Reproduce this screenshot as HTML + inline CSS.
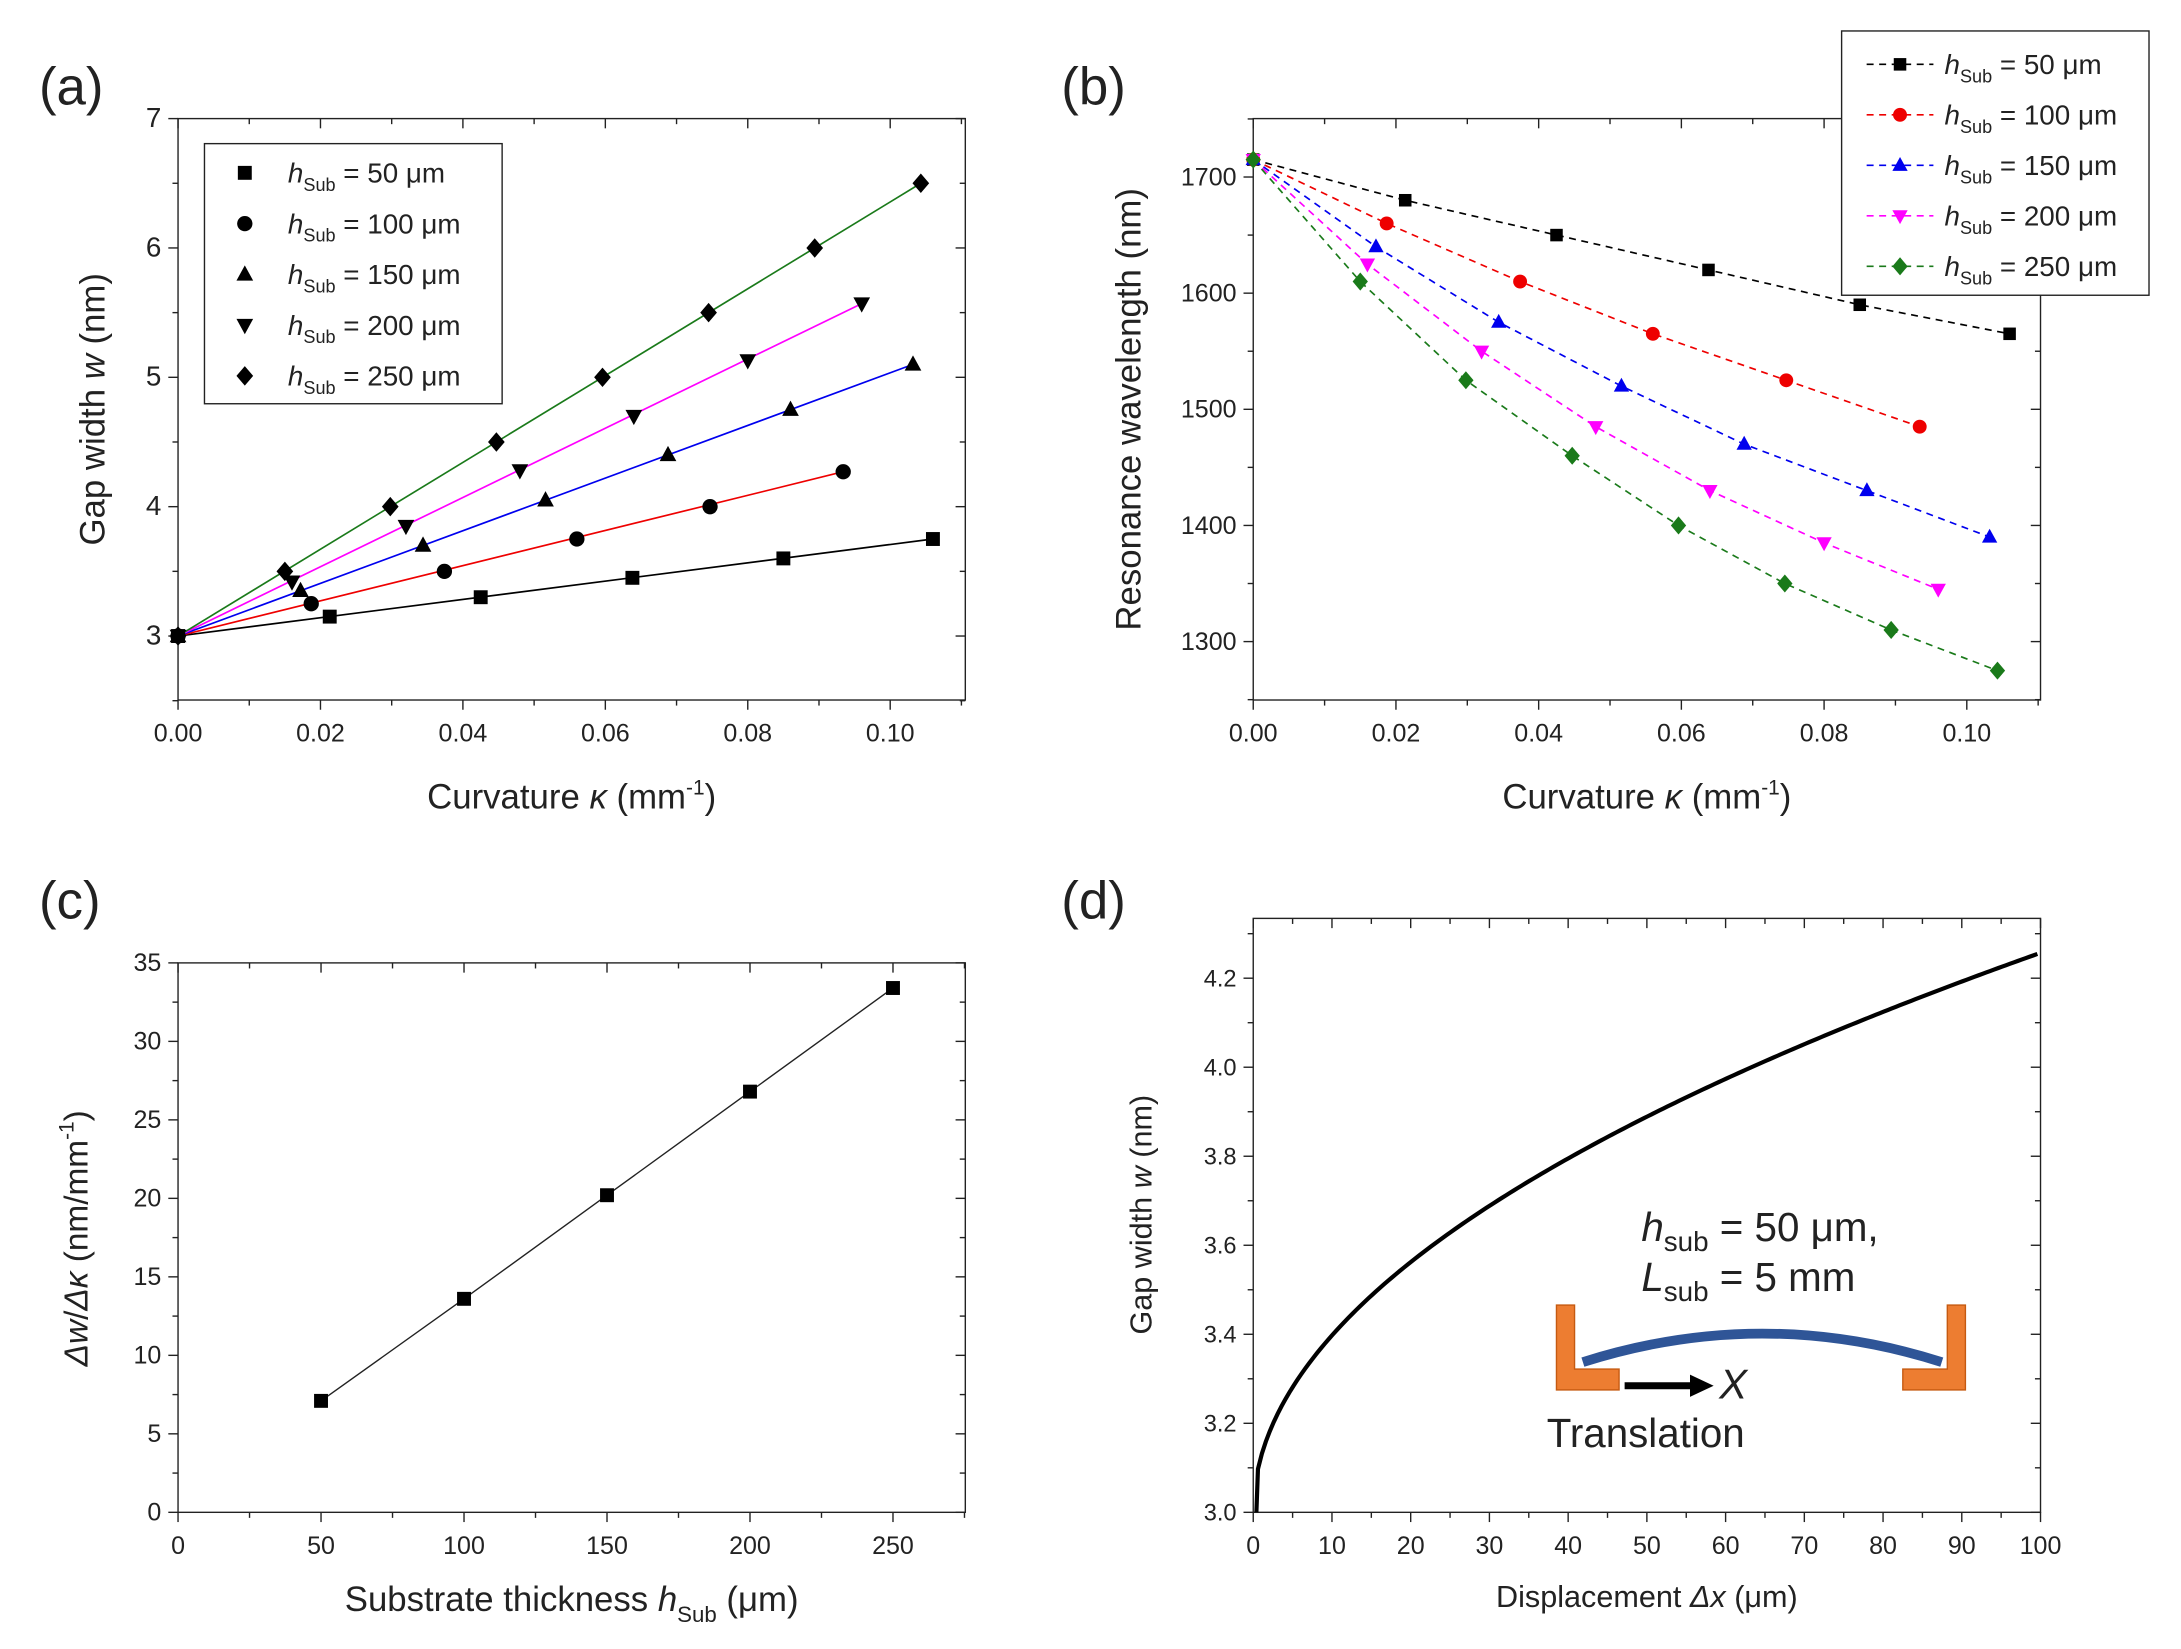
<!DOCTYPE html>
<html><head><meta charset="utf-8"><style>
html,body{margin:0;padding:0;background:#fff}
svg{display:block}
text{font-family:"Liberation Sans",sans-serif;fill:#222}
</style></head><body>
<svg id="s" width="2181" height="1649" viewBox="0 0 1568 1185" xmlns="http://www.w3.org/2000/svg"></svg>
<script>
const S=document.getElementById('s');const NS='http://www.w3.org/2000/svg';
function el(t,a,txt){const e=document.createElementNS(NS,t);for(const k in a)e.setAttribute(k,a[k]);if(txt!==undefined)e.innerHTML=txt;S.appendChild(e);return e;}
function marker(type,x,y,c,r){r=r||5.5;
 if(type==0)el('rect',{x:x-r+0.5,y:y-r+0.5,width:2*r-1,height:2*r-1,fill:c});
 else if(type==1)el('circle',{cx:x,cy:y,r:r,fill:c});
 else if(type==2)el('polygon',{points:`${x},${y-r-1} ${x-r-0.5},${y+r-1} ${x+r+0.5},${y+r-1}`,fill:c});
 else if(type==3)el('polygon',{points:`${x},${y+r+1} ${x-r-0.5},${y-r+1} ${x+r+0.5},${y-r+1}`,fill:c});
 else el('polygon',{points:`${x},${y-r-1.5} ${x+r+0.5},${y} ${x},${y+r+1.5} ${x-r-0.5},${y}`,fill:c});}
function frame(x0,y0,x1,y1){el('rect',{x:x0,y:y0,width:x1-x0,height:y1-y0,fill:'none',stroke:'#222','stroke-width':1});}
function xt(px,y0,y1,label,minor){el('line',{x1:px,y1:y1,x2:px,y2:y1+(minor?4:7),stroke:'#222'});el('line',{x1:px,y1:y0,x2:px,y2:y0+(minor?4:7),stroke:'#222'});if(label!==null&&label!==undefined)el('text',{x:px,y:y1+30,'font-size':18,'text-anchor':'middle'},label);}
function yt(py,x0,x1,label,minor,fs){el('line',{x1:x0,y1:py,x2:x0-(minor?4:7),y2:py,stroke:'#222'});el('line',{x1:x1,y1:py,x2:x1-(minor?4:7),y2:py,stroke:'#222'});if(label!==null&&label!==undefined)el('text',{x:x0-12,y:py+6,'font-size':fs||18,'text-anchor':'end'},label);}
const cols=['#000','#e00','#00e','#f0f','#1a7a1a'];
[['(a)',28,75],['(b)',763,75],['(c)',28,660],['(d)',763,660]].forEach(p=>el('text',{x:p[1],y:p[2],'font-size':38},p[0]));
// ---- (a)
const ax=k=>128+k*5120, ay=w=>457-(w-3)*93;
frame(128,85,694,503);
for(let i=0;i<=11;i++){const k=i*0.01;xt(ax(k),85,503,i%2==0?k.toFixed(2):null,i%2==1);}
for(let v=2.5;v<=7.01;v+=0.5){yt(ay(v),128,694,Number.isInteger(v)?String(v):null,!Number.isInteger(v),20);}
const A=[[[0.0213,.0425,.0638,.085,.106],[3.15,3.3,3.45,3.6,3.75]],
[[.0187,.0374,.056,.0747,.0934],[3.25,3.5,3.75,4.0,4.27]],
[[.0172,.0344,.0516,.0688,.086,.1032],[3.35,3.7,4.05,4.4,4.75,5.1]],
[[.016,.032,.048,.064,.08,.096],[3.42,3.85,4.28,4.7,5.13,5.57]],
[[.015,.0298,.0447,.0596,.0745,.0894,.1043],[3.5,4,4.5,5,5.5,6,6.5]]];
A.forEach((s,i)=>{const n=s[0].length-1;el('line',{x1:ax(0),y1:ay(3),x2:ax(s[0][n]),y2:ay(s[1][n]),stroke:cols[i],'stroke-width':1.2});});
A.forEach((s,i)=>{marker(i,ax(0),ay(3),'#000');s[0].forEach((k,j)=>marker(i,ax(k),ay(s[1][j]),'#000'));});
el('rect',{x:147,y:103,width:214,height:187,fill:'#fff',stroke:'#222'});
['50','100','150','200','250'].forEach((h,i)=>{const y=124+i*36.5;marker(i,176,y,'#000');el('text',{x:207,y:y+7,'font-size':20},`<tspan font-style="italic">h</tspan><tspan font-size="13" dy="6">Sub</tspan><tspan dy="-6"> = ${h} μm</tspan>`);});
el('text',{x:75,y:294,'font-size':25,'text-anchor':'middle',transform:'rotate(-90 75 294)'},'Gap width <tspan font-style="italic">w</tspan> (nm)');
el('text',{x:411,y:581,'font-size':25,'text-anchor':'middle'},'Curvature <tspan font-style="italic">κ</tspan> (mm<tspan font-size="15" dy="-10">-1</tspan><tspan dy="10">)</tspan>');
// ---- (b)
const bx=k=>901+k*5130, by=v=>127+(1700-v)*0.835;
frame(901,85,1467,503);
for(let i=0;i<=11;i++){const k=i*0.01;xt(bx(k),85,503,i%2==0?k.toFixed(2):null,i%2==1);}
for(let v=1250;v<=1750;v+=50){yt(by(v),901,1467,v%100==0?String(v):null,v%100!=0);}
const B=[[[0,.0213,.0425,.0638,.085,.106],[1715,1680,1650,1620,1590,1565]],
[[0,.0187,.0374,.056,.0747,.0934],[1715,1660,1610,1565,1525,1485]],
[[0,.0172,.0344,.0516,.0688,.086,.1032],[1715,1640,1575,1520,1470,1430,1390]],
[[0,.016,.032,.048,.064,.08,.096],[1715,1625,1550,1485,1430,1385,1345]],
[[0,.015,.0298,.0447,.0596,.0745,.0894,.1043],[1715,1610,1525,1460,1400,1350,1310,1275]]];
B.forEach((s,i)=>{el('polyline',{points:s[0].map((k,j)=>bx(k)+','+by(s[1][j])).join(' '),fill:'none',stroke:cols[i],'stroke-width':1.2,'stroke-dasharray':'5,4'});});
B.forEach((s,i)=>s[0].forEach((k,j)=>marker(i,bx(k),by(s[1][j]),cols[i],5)));
el('rect',{x:1324,y:22,width:221,height:190,fill:'#fff',stroke:'#222'});
['50','100','150','200','250'].forEach((h,i)=>{const y=46+i*36.3;el('line',{x1:1342,y1:y,x2:1390,y2:y,stroke:cols[i],'stroke-dasharray':'5,4','stroke-width':1.2});marker(i,1366,y,cols[i],5);el('text',{x:1398,y:y+7,'font-size':20},`<tspan font-style="italic">h</tspan><tspan font-size="13" dy="6">Sub</tspan><tspan dy="-6"> = ${h} μm</tspan>`);});
el('text',{x:820,y:294,'font-size':25,'text-anchor':'middle',transform:'rotate(-90 820 294)'},'Resonance wavelength (nm)');
el('text',{x:1184,y:581,'font-size':25,'text-anchor':'middle'},'Curvature <tspan font-style="italic">κ</tspan> (mm<tspan font-size="15" dy="-10">-1</tspan><tspan dy="10">)</tspan>');
// ---- (c)
const cx=h=>128+h*2.056, cy=v=>1087-v*11.286;
frame(128,692,694,1087);
for(let h=0;h<=275;h+=25){xt(cx(h),692,1087,h%50==0?String(h):null,h%50!=0);}
for(let v=0;v<=35;v+=2.5){yt(cy(v),128,694,Number.isInteger(v/5)?String(v):null,!Number.isInteger(v/5));}
const C=[[50,7.1],[100,13.6],[150,20.2],[200,26.8],[250,33.4]];
el('polyline',{points:C.map(p=>cx(p[0])+','+cy(p[1])).join(' '),fill:'none',stroke:'#222','stroke-width':1});
C.forEach(p=>marker(0,cx(p[0]),cy(p[1]),'#000'));
el('text',{x:63,y:890,'font-size':24,'text-anchor':'middle',transform:'rotate(-90 63 890)'},'<tspan font-style="italic">Δw</tspan>/<tspan font-style="italic">Δκ</tspan> (nm/mm<tspan font-size="15" dy="-10">-1</tspan><tspan dy="10">)</tspan>');
el('text',{x:411,y:1158,'font-size':25,'text-anchor':'middle'},'Substrate thickness <tspan font-style="italic">h</tspan><tspan font-size="16" dy="8">Sub</tspan><tspan dy="-8"> (μm)</tspan>');
// ---- (d)
const dx=x=>901+x*5.66, dy=w=>1087-(w-3)*320;
frame(901,660,1467,1087);
for(let x=0;x<=100;x+=5){xt(dx(x),660,1087,x%10==0?String(x):null,x%10!=0);}
for(let w=3.0;w<=4.31;w+=0.1){const m=Math.round(w*10)%2==0;yt(dy(w),901,1467,m?w.toFixed(1):null,!m,17);}
let pts=[dx(0.4)+','+dy(3.0)];for(let x=0.6;x<=100;x+=0.5){pts.push(dx(x)+','+dy(3+0.1257*Math.sqrt(x)));}
el('polyline',{points:pts.join(' '),fill:'none',stroke:'#000','stroke-width':3});
el('text',{x:828,y:873,'font-size':22,'text-anchor':'middle',transform:'rotate(-90 828 873)'},'Gap width <tspan font-style="italic">w</tspan> (nm)');
el('text',{x:1184,y:1155,'font-size':22,'text-anchor':'middle'},'Displacement <tspan font-style="italic">Δx</tspan> (μm)');
el('text',{x:1180,y:892,'font-size':29},'<tspan font-style="italic">h</tspan><tspan font-size="20" dy="7">sub</tspan><tspan dy="-7"> = 50 μm,</tspan>');
el('text',{x:1180,y:928,'font-size':29},'<tspan font-style="italic">L</tspan><tspan font-size="20" dy="7">sub</tspan><tspan dy="-7"> = 5 mm</tspan>');
el('path',{d:'M1119,938 h13 v46 h32 v15 h-45 z',fill:'#ed7d31',stroke:'#c55a11','stroke-width':1});
el('path',{d:'M1413,938 h-13 v46 h-32 v15 h45 z',fill:'#ed7d31',stroke:'#c55a11','stroke-width':1});
el('path',{d:'M1138,979 Q1267,938 1396,979',fill:'none',stroke:'#2f5597','stroke-width':7});
el('line',{x1:1168,y1:996,x2:1218,y2:996,stroke:'#000','stroke-width':5});
el('polygon',{points:'1215,988 1232,996 1215,1004',fill:'#000'});
el('text',{x:1236,y:1005,'font-size':30,'font-style':'italic'},'X');
el('text',{x:1112,y:1040,'font-size':29},'Translation');
</script>
</body></html>
